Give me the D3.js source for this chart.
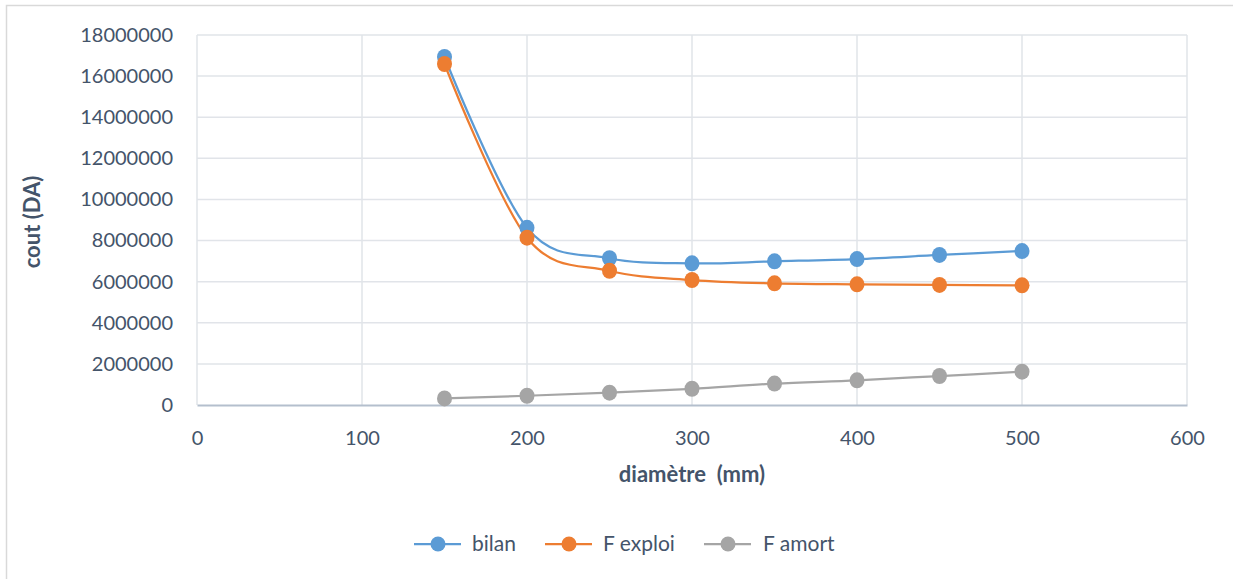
<!DOCTYPE html>
<html>
<head>
<meta charset="utf-8">
<script src="https://cdn.jsdelivr.net/npm/d3@7"></script>
<style>
  html, body { margin: 0; padding: 0; background: #fff; }
  svg { display: block; font-family: Lato, "Open Sans", sans-serif; }
</style>
</head>
<body>
<svg id="chart" width="1233" height="579"></svg>
<script>
// Diameters (mm) and yearly costs (DA) for each series
const diametres = [150, 200, 250, 300, 350, 400, 450, 500];
const bilan    = [16930000, 8620000, 7140000, 6890000, 6990000, 7100000, 7300000, 7490000];
const fExploi  = [16590000, 8140000, 6530000, 6080000, 5920000, 5870000, 5840000, 5820000];
const fAmort   = [320000, 450000, 600000, 790000, 1040000, 1200000, 1410000, 1620000];

const seriesNames  = ["bilan", "F exploi", "F amort"];
const seriesColors = ["#5B9BD5", "#ED7D31", "#A5A5A5"];
const xTicks = [0, 100, 200, 300, 400, 500, 600];
const yTicks = [0, 2000000, 4000000, 6000000, 8000000, 10000000, 12000000, 14000000, 16000000, 18000000];

const series = [bilan, fExploi, fAmort].map((vals, i) => ({
  name: seriesNames[i],
  color: seriesColors[i],
  points: diametres.map((d, j) => ({ x: d, y: vals[j] }))
}));

const svg = d3.select("#chart");
const textColor = "#44546A";

// Chart frame
svg.append("rect")
  .attr("x", 6.5).attr("y", 5.5)
  .attr("width", 1240).attr("height", 590)
  .attr("fill", "#fff").attr("stroke", "#D9D9D9").attr("stroke-width", 1.5);

const plot = { left: 197, right: 1187, top: 35, bottom: 405 };

const x = d3.scaleLinear().domain([0, 600]).range([plot.left, plot.right]);
const y = d3.scaleLinear().domain([0, 18000000]).range([plot.bottom, plot.top]);

// Gridlines
const grid = svg.append("g");
grid.selectAll("line.h").data(yTicks.slice(1)).enter().append("line")
  .attr("x1", plot.left).attr("x2", plot.right)
  .attr("y1", d => y(d)).attr("y2", d => y(d))
  .attr("stroke", "#E1E4E9").attr("stroke-width", 1.5);
grid.selectAll("line.v").data(xTicks).enter().append("line")
  .attr("y1", plot.top).attr("y2", plot.bottom)
  .attr("x1", d => x(d)).attr("x2", d => x(d))
  .attr("stroke", "#E1E4E9").attr("stroke-width", 1.5);

// Axes
const xAxis = svg.append("g")
  .attr("transform", `translate(0,${plot.bottom})`)
  .call(d3.axisBottom(x).tickValues(xTicks).tickSize(0).tickPadding(26).tickFormat(d3.format("d")));
xAxis.select(".domain").attr("stroke", "#B4BFCD").attr("stroke-width", 2);

const yAxis = svg.append("g")
  .attr("transform", `translate(${plot.left},0)`)
  .call(d3.axisLeft(y).tickValues(yTicks).tickSize(0).tickPadding(24).tickFormat(d3.format("d")));
yAxis.select(".domain").remove();

svg.selectAll(".tick text")
  .attr("fill", textColor)
  .style("font-size", "20px")
  .style("font-family", "Lato, sans-serif");

// Axis titles
svg.append("text")
  .attr("x", 692).attr("y", 482)
  .attr("text-anchor", "middle")
  .attr("fill", textColor)
  .style("font-size", "22px").style("font-weight", "bold")
  .style("white-space", "pre")
  .text("diamètre  (mm)");

svg.append("text")
  .attr("transform", "translate(40,222) rotate(-90)")
  .attr("text-anchor", "middle")
  .attr("fill", textColor)
  .style("font-size", "22px").style("font-weight", "bold")
  .text("cout (DA)");

// Smoothed series lines
const line = d3.line()
  .x(d => x(d.x)).y(d => y(d.y))
  .curve(d3.curveCardinal.tension(0));

const draw = svg.append("g");
series.slice().reverse().forEach(s => {
  draw.append("path")
    .attr("d", line(s.points))
    .attr("fill", "none")
    .attr("stroke", s.color)
    .attr("stroke-width", 2.25);
});
series.slice().forEach(s => {
  draw.append("g").selectAll("ellipse").data(s.points).enter().append("ellipse")
    .attr("cx", d => x(d.x)).attr("cy", d => y(d.y))
    .attr("rx", 7.5).attr("ry", 8)
    .attr("fill", s.color);
});

// Legend
const legendItems = [
  { x: 414, labelX: 472 },
  { x: 545, labelX: 603 },
  { x: 704, labelX: 763 }
];
const legend = svg.append("g").attr("transform", "translate(0,544)");
series.forEach((s, i) => {
  const li = legendItems[i];
  legend.append("line")
    .attr("x1", li.x).attr("x2", li.x + 47)
    .attr("y1", 0).attr("y2", 0)
    .attr("stroke", s.color).attr("stroke-width", 2.25);
  legend.append("circle")
    .attr("cx", li.x + 24).attr("cy", 0).attr("r", 7.5)
    .attr("fill", s.color);
  legend.append("text")
    .attr("x", li.labelX).attr("y", 0).attr("dy", "0.35em")
    .attr("fill", textColor)
    .style("font-size", "21px")
    .text(s.name);
});
</script>
</body>
</html>
